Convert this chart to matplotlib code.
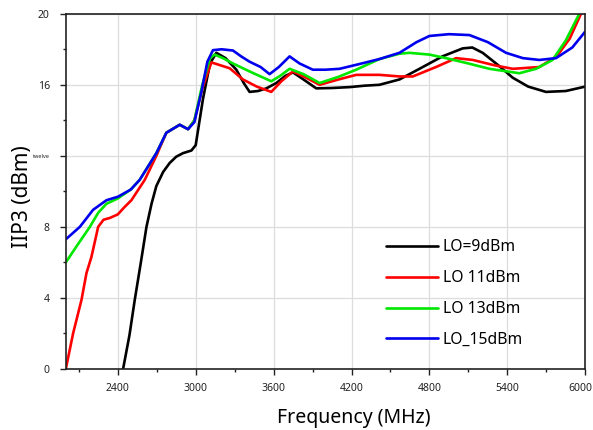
import numpy as np
import matplotlib
matplotlib.use('Agg')
import matplotlib.pyplot as plt
import matplotlib.transforms as mtrans
from matplotlib.ticker import MultipleLocator

plt.rcParams['font.family'] = ['Noto Sans', 'DejaVu Sans']

# %% datos
f_lo9 = [2441, 2490, 2531, 2580, 2621, 2660, 2697, 2750, 2800, 2850, 2902, 2967, 3000, 3056, 3110, 3159,
         3230, 3313, 3370, 3415, 3480, 3544, 3621, 3690, 3749, 3830, 3928, 4050, 4185, 4300, 4415, 4569,
         4723, 4900, 5056, 5130, 5210, 5330, 5441, 5560, 5697, 5850, 6000]
iip3_lo9 = [0.0, 1.9, 3.9, 6.1, 8.0, 9.3, 10.3, 11.1, 11.6, 11.95, 12.15, 12.3, 12.6, 15.2, 17.2, 17.8,
            17.5, 16.85, 16.1, 15.6, 15.65, 15.8, 16.1, 16.5, 16.7, 16.3, 15.8, 15.82, 15.87, 15.95, 16.0, 16.3,
            16.9, 17.6, 18.05, 18.1, 17.8, 17.1, 16.4, 15.9, 15.6, 15.65, 15.9]

f_lo11 = [2000, 2056, 2121, 2159, 2197, 2249, 2290, 2338, 2400, 2450, 2505, 2608, 2697, 2774, 2877,
          2941, 2990, 3051, 3121, 3190, 3262, 3364, 3470, 3582, 3660, 3749, 3850, 3954, 4100, 4236, 4415,
          4569, 4672, 4850, 5005, 5133, 5300, 5441, 5646, 5780, 5880, 5967]
iip3_lo11 = [0.0, 2.0, 3.9, 5.4, 6.3, 8.0, 8.4, 8.5, 8.7, 9.1, 9.5, 10.65, 12.0, 13.3, 13.75,
             13.5, 14.0, 15.8, 17.26, 17.1, 16.93, 16.3, 15.9, 15.6, 16.2, 16.75, 16.4, 16.0, 16.3, 16.56, 16.56,
             16.47, 16.47, 17.0, 17.5, 17.4, 17.1, 16.9, 17.0, 17.6, 18.6, 20.0]

f_lo13 = [2000, 2082, 2185, 2250, 2313, 2400, 2500, 2569, 2697, 2774, 2877, 2941, 2990, 3051, 3110,
          3146, 3210, 3287, 3430, 3582, 3650, 3723, 3830, 3954, 4100, 4236, 4415, 4569, 4646, 4800, 4928,
          5100, 5262, 5492, 5620, 5748, 5850, 5954]
iip3_lo13 = [6.0, 6.9, 8.0, 8.8, 9.3, 9.6, 10.1, 10.65, 12.15, 13.3, 13.75, 13.5, 14.0, 16.0, 17.5,
             17.7, 17.5, 17.2, 16.7, 16.2, 16.5, 16.9, 16.6, 16.1, 16.45, 16.85, 17.45, 17.75, 17.8, 17.7, 17.5,
             17.2, 16.9, 16.65, 16.9, 17.4, 18.5, 20.0]

f_lo15 = [2000, 2108, 2210, 2313, 2402, 2500, 2569, 2697, 2774, 2877, 2941, 2990, 3044, 3090, 3133,
          3200, 3287, 3350, 3415, 3500, 3569, 3640, 3723, 3800, 3902, 4000, 4108, 4250, 4415, 4569, 4700,
          4800, 4950, 5108, 5250, 5390, 5520, 5646, 5774, 5900, 6000]
iip3_lo15 = [7.3, 8.0, 8.96, 9.5, 9.7, 10.1, 10.65, 12.15, 13.3, 13.75, 13.5, 13.9, 15.6, 17.3, 17.95,
             18.0, 17.93, 17.6, 17.3, 17.0, 16.6, 17.0, 17.6, 17.2, 16.85, 16.85, 16.9, 17.15, 17.45, 17.8, 18.4,
             18.75, 18.85, 18.8, 18.4, 17.8, 17.5, 17.4, 17.5, 18.1, 19.0]

series = [(f_lo9, iip3_lo9, 'black', 'LO=9dBm'),
          (f_lo11, iip3_lo11, '#ff0000', 'LO 11dBm'),
          (f_lo13, iip3_lo13, '#00e800', 'LO 13dBm'),
          (f_lo15, iip3_lo15, '#0000ee', 'LO_15dBm')]

x_ticks = [2400, 3000, 3600, 4200, 4800, 5400, 6000]
y_ticks = [0, 4, 8, 12, 16, 20]
y_tick_labels = ['0', '4', '8', 'twelve', '16', '20']

# %% grafica
fig = plt.figure(figsize=(5.93, 4.30), dpi=100)
ax = fig.add_axes([0.111, 0.142, 0.876, 0.826])

for f, v, c, lab in series:
    ax.plot(f, v, color=c, lw=1.9, label=lab, solid_joinstyle='round', solid_capstyle='round')

ax.set_xlim(2000, 6000)
ax.set_ylim(0, 20)
ax.set_xticks(x_ticks)
ax.set_yticks(y_ticks)
ax.set_yticklabels(y_tick_labels)
ax.xaxis.set_minor_locator(MultipleLocator(300))
ax.yaxis.set_minor_locator(MultipleLocator(2))
ax.tick_params(which='major', direction='out', length=4, width=1, labelsize=7.5, colors='#222222')
ax.tick_params(axis='x', which='major', pad=6)
ax.tick_params(axis='y', which='major', pad=7.5)
ax.tick_params(which='minor', direction='out', length=2.5, width=1, colors='#222222')
for lbl in ax.get_yticklabels():
    if lbl.get_text() == 'twelve':
        lbl.set_fontsize(4)
# el ultimo rotulo (6000) un poco a la izquierda para que no se corte
last = ax.get_xticklabels()[-1]
last.set_transform(last.get_transform() + mtrans.ScaledTranslation(-5 / 100, 0, fig.dpi_scale_trans))

ax.grid(True, which='major', color='#dddddd', lw=0.9)
ax.set_axisbelow(True)
for s in ax.spines.values():
    s.set_linewidth(1.2)
    s.set_color('#222222')

ax.set_xlabel('Frequency (MHz)', fontsize=14)
ax.set_ylabel('IIP3 (dBm)', fontsize=15)
ax.xaxis.set_label_coords(0.555, -0.11)
ax.yaxis.set_label_coords(-0.064, 0.486)

ax.legend(loc='upper left', bbox_to_anchor=(0.59, 0.405), frameon=False, fontsize=11.3,
          handlelength=3.3, labelspacing=0.95, handletextpad=0.3)

plt.savefig('out.png', dpi=100)
